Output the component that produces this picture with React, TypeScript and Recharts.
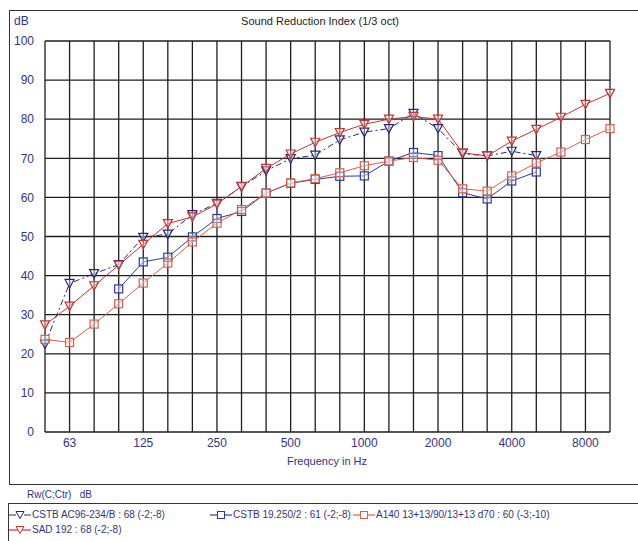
import { CartesianGrid, Line, LineChart, XAxis, YAxis } from 'recharts';

// 1/3 octave bands, 50 Hz .. 10 kHz
const bands = [
  '50', '63', '80', '100', '125', '160', '200', '250', '315', '400', '500', '630',
  '800', '1000', '1250', '1600', '2000', '2500', '3150', '4000', '5000', '6300', '8000', '10000',
];
const labelledBands = ['63', '125', '250', '500', '1000', '2000', '4000', '8000'];
const yTicks = [0, 10, 20, 30, 40, 50, 60, 70, 80, 90, 100];

const cstbAc96 = [
  22.5, 38, 40.5, 42.8, 49.8, 50.6, 55.6, 58.5, 62.7, 66.8, 69.9, 70.8,
  74.7, 76.7, 77.6, 81.5, 77.6, 71.2, 70.6, 71.8, 70.7, null, null, null,
];
const cstb19250 = [
  null, null, null, 36.6, 43.5, 44.7, 49.9, 54.6, 56.4, 61.1, 63.6, 64.6,
  65.4, 65.5, 69.3, 71.5, 70.7, 61.2, 59.6, 64.2, 66.5, null, null, null,
];
const a140 = [
  23.7, 22.9, 27.6, 32.8, 38.1, 43.2, 48.6, 53.4, 56.9, 61.1, 63.7, 64.8,
  66.3, 68.1, 69.3, 70.2, 69.5, 62.2, 61.6, 65.5, 68.8, 71.6, 74.8, 77.6,
];
const sad192 = [
  27.4, 32.2, 37.4, 42.7, 48, 53.3, 55, 58.3, 62.8, 67.4, 71.1, 74.1,
  76.6, 78.7, 80, 80.7, 80, 71.4, 70.6, 74.4, 77.4, 80.5, 83.8, 86.6,
];

const data = bands.map((f, i) => ({
  freq: f,
  cstbAc96: cstbAc96[i],
  cstb19250: cstb19250[i],
  a140: a140[i],
  sad192: sad192[i],
}));

const NAVY = '#26267a';
const BLUE_SQ = '#2c3c9c';
const RED_SQ = '#d9604e';
const RED_TRI = '#c83232';
const TEXT = '#34347e';

function triDot(color: string) {
  return (props: any) => {
    const { cx, cy, value, index } = props;
    if (value == null || cx == null || cy == null) return <g key={`t${index}`} />;
    return (
      <path
        key={`t${index}`}
        d={`M${cx - 4.5},${cy - 4}L${cx + 4.5},${cy - 4}L${cx},${cy + 4.5}Z`}
        fill="#fff"
        fillOpacity={0.4}
        stroke={color}
        strokeWidth={1.2}
      />
    );
  };
}

function squareDot(color: string) {
  return (props: any) => {
    const { cx, cy, value, index } = props;
    if (value == null || cx == null || cy == null) return <g key={`s${index}`} />;
    return (
      <rect
        key={`s${index}`}
        x={cx - 4}
        y={cy - 4}
        width={8}
        height={8}
        fill="#fff"
        fillOpacity={0.4}
        stroke={color}
        strokeWidth={1.2}
      />
    );
  };
}

function LegendMark({ color, shape, dashed }: { color: string; shape: 'tri' | 'sq'; dashed?: boolean }) {
  return (
    <svg width={22} height={10} style={{ verticalAlign: 'middle', marginRight: 1 }}>
      <line x1={0} y1={5} x2={22} y2={5} stroke={color} strokeWidth={1.2} strokeDasharray={dashed ? '7 3 2 3' : undefined} />
      {shape === 'tri' ? (
        <path d="M7,1.5L15,1.5L11,8.5Z" fill="#fff" stroke={color} />
      ) : (
        <rect x={7.5} y={1.5} width={7} height={7} fill="#fff" stroke={color} />
      )}
    </svg>
  );
}

const font = 'Arial, "Liberation Sans", sans-serif';

export default function App() {
  return (
    <div style={{ position: 'absolute', left: 0, top: 0, width: 638, height: 541, background: '#fff', overflow: 'hidden', fontFamily: font }}>
      <div style={{ position: 'absolute', left: 9, top: 10, width: 650, height: 475, border: '1px solid #333', boxSizing: 'border-box' }} />
      <div style={{ position: 'absolute', left: 14, top: 14, fontSize: 12, color: TEXT }}>dB</div>
      <div style={{ position: 'absolute', left: 0, width: 640, top: 15, textAlign: 'center', fontSize: 11, color: '#222' }}>
        Sound Reduction Index (1/3 oct)
      </div>
      <div style={{ position: 'absolute', left: 0, top: 0 }}>
        <LineChart width={638} height={485} data={data} margin={{ top: 41, right: 28, left: 10, bottom: 23 }}>
          <CartesianGrid stroke="#1e1e1e" strokeWidth={1.3} />
          <XAxis
            dataKey="freq"
            interval={0}
            axisLine={false}
            tickLine={false}
            tickSize={0}
            tickMargin={6}
            height={30}
            tick={{ fontSize: 12, fill: TEXT, fontFamily: font }}
            tickFormatter={(v) => (labelledBands.includes(String(v)) ? String(v) : '')}
          />
          <YAxis
            domain={[0, 100]}
            ticks={yTicks}
            interval={0}
            width={35}
            axisLine={false}
            tickLine={false}
            tickSize={6}
            tickMargin={5}
            tick={{ fontSize: 12, fill: TEXT, fontFamily: font }}
          />
          <Line
            dataKey="cstbAc96"
            stroke={NAVY}
            strokeWidth={1}
            strokeDasharray="6 3 2 3"
            dot={triDot(NAVY)}
            isAnimationActive={false}
          />
          <Line dataKey="cstb19250" stroke={BLUE_SQ} strokeWidth={1} dot={squareDot(BLUE_SQ)} isAnimationActive={false} />
          <Line dataKey="a140" stroke={RED_SQ} strokeWidth={1} dot={squareDot(RED_SQ)} isAnimationActive={false} />
          <Line dataKey="sad192" stroke={RED_TRI} strokeWidth={1} dot={triDot(RED_TRI)} isAnimationActive={false} />
        </LineChart>
      </div>
      <div style={{ position: 'absolute', left: 0, width: 654, top: 455, textAlign: 'center', fontSize: 11, color: TEXT }}>
        Frequency in Hz
      </div>
      <div style={{ position: 'absolute', left: 27, top: 489, fontSize: 10, color: TEXT }}>Rw(C;Ctr)&nbsp;&nbsp;&nbsp;dB</div>
      <div
        style={{
          position: 'absolute', left: 8, top: 503, width: 650, height: 50, borderTop: '1px solid #333', borderLeft: '1px solid #333',
          boxSizing: 'border-box', fontSize: 10, color: TEXT,
        }}
      >
        <div style={{ position: 'absolute', left: 0, top: 5, whiteSpace: 'nowrap' }}>
          <LegendMark color={NAVY} shape="tri" dashed />CSTB AC96-234/B : 68 (-2;-8)
        </div>
        <div style={{ position: 'absolute', left: 201, top: 5, whiteSpace: 'nowrap' }}>
          <LegendMark color={BLUE_SQ} shape="sq" />CSTB 19.250/2 : 61 (-2;-8)
        </div>
        <div style={{ position: 'absolute', left: 344, top: 5, whiteSpace: 'nowrap' }}>
          <LegendMark color={RED_SQ} shape="sq" />A140 13+13/90/13+13 d70 : 60 (-3;-10)
        </div>
        <div style={{ position: 'absolute', left: 0, top: 20, whiteSpace: 'nowrap' }}>
          <LegendMark color={RED_TRI} shape="tri" />SAD 192 : 68 (-2;-8)
        </div>
      </div>
    </div>
  );
}
